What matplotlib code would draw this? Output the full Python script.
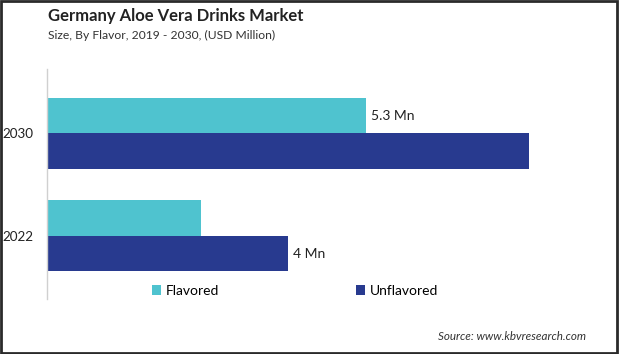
import matplotlib.pyplot as plt
from matplotlib.patches import Rectangle

years = ["2022", "2030"]
flavored = [2.56, 5.3]
unflavored = [4.0, 8.0]
labels_flav = [None, "5.3 Mn"]
labels_unflav = ["4 Mn", None]

c_flav = "#4fc3cf"
c_unflav = "#283a8f"

W, H = 619, 354
fig = plt.figure(figsize=(W / 100, H / 100), dpi=100)
plt.rcParams['font.family'] = ['Lato', 'DejaVu Sans']

# axes in pixel coordinates of the reference
x0, x1 = 47, 600
y_top, y_bot = 69, 299
ax = fig.add_axes([x0 / W, 1 - y_bot / H, (x1 - x0) / W, (y_bot - y_top) / H])

pos = [0, 1]
h = 0.35
ax.barh([p + h / 2 for p in pos], flavored, height=h, color=c_flav, label="Flavored")
ax.barh([p - h / 2 for p in pos], unflavored, height=h, color=c_unflav, label="Unflavored")

for p, v, t in zip(pos, flavored, labels_flav):
    if t:
        ax.text(v + 0.08, p + h / 2, t, va="center", ha="left", fontsize=10, color="#222222")
for p, v, t in zip(pos, unflavored, labels_unflav):
    if t:
        ax.text(v + 0.08, p - h / 2, t, va="center", ha="left", fontsize=10, color="#222222")

ax.set_xlim(0, (x1 - x0) / 60.2)
ax.set_ylim(-0.62, 1.63)
ax.set_yticks(pos)
ax.set_yticklabels(years, fontsize=9.7, color="#222222")
ax.tick_params(axis="y", length=0, pad=9.5)
ax.set_xticks([])
for s in ["top", "right", "bottom"]:
    ax.spines[s].set_visible(False)
ax.spines["left"].set_color("#d0d0d0")
ax.spines["left"].set_linewidth(1)

fig.text(48 / W, 1 - 16 / H, "Germany Aloe Vera Drinks Market", fontsize=12,
         fontweight="bold", color="#222222", va="center", ha="left")
fig.text(48 / W, 1 - 35 / H, "Size, By Flavor, 2019 - 2030, (USD Million)", fontsize=8.7,
         color="#333333", va="center", ha="left")

handles, lbls = ax.get_legend_handles_labels()
fig.legend(handles, lbls, loc="center left", bbox_to_anchor=(139 / W, 1 - 291 / H), ncol=2,
           frameon=False, fontsize=10, handlelength=0.7, handleheight=0.7,
           handletextpad=0.3, columnspacing=9.85)

fig.text(586 / W, 1 - 336 / H, "Source: www.kbvresearch.com", fontsize=8.4, style="italic",
         color="#333333", va="center", ha="right")

fig.patches.append(Rectangle((0.0015, 0.002), 0.996, 0.995, transform=fig.transFigure,
                             fill=False, edgecolor="#2a2a2a", linewidth=2))

fig.savefig("out.png", dpi=100)
